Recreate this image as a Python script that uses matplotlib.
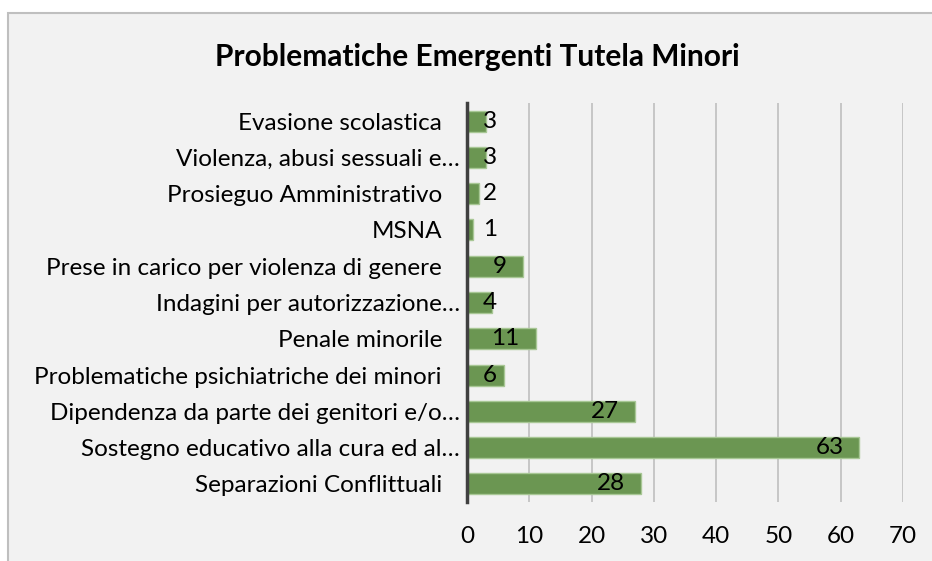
import matplotlib.pyplot as plt
import matplotlib.patches as mpatches
import matplotlib.transforms as mtransforms

plt.rcParams["font.family"] = ["Lato", "DejaVu Sans"]

categories = [
    "Evasione scolastica",
    "Violenza, abusi sessuali e…",
    "Prosieguo Amministrativo",
    "MSNA",
    "Prese in carico per violenza di genere",
    "Indagini per autorizzazione…",
    "Penale minorile",
    "Problematiche psichiatriche dei minori",
    "Dipendenza da parte dei genitori e/o…",
    "Sostegno educativo alla cura ed al…",
    "Separazioni Conflittuali",
]
values = [3, 3, 2, 1, 9, 4, 11, 6, 27, 63, 28]
xticks = [0, 10, 20, 30, 40, 50, 60, 70]

W, H = 932, 561
fig = plt.figure(figsize=(W / 100, H / 100), dpi=100, facecolor="white")

# chart area background with border (top/left visible)
bg = mpatches.Rectangle((7.5 / W, -0.01), 1.02, 1 - 12.5 / H + 0.01,
                        transform=fig.transFigure, facecolor="#F2F2F2",
                        edgecolor="#BFBFBF", linewidth=1.5, zorder=-5)
fig.patches.append(bg)

ax = fig.add_axes([467 / W, 1 - 502 / H, (903 - 467) / W, (502 - 103) / H])
ax.set_facecolor("none")
ax.set_zorder(2)

ypos = list(range(len(categories)))
ax.barh(ypos, values, height=0.58, color="#6B9652", edgecolor="#A8C795",
        linewidth=1, zorder=3)

ax.set_xlim(0, 70)
ax.set_ylim(len(categories) - 0.5, -0.5)
ax.set_xticks(xticks)
ax.set_yticks(ypos)
ax.set_yticklabels(categories)
ax.tick_params(axis="both", length=0, labelsize=17.5, colors="black")
ax.tick_params(axis="y", pad=18)
ax.tick_params(axis="x", pad=17)

ax.grid(axis="x", color="#BFBFBF", linewidth=1.2, zorder=1)
for side in ["top", "right", "bottom"]:
    ax.spines[side].set_visible(False)
ax.spines["left"].set_color("#404040")
ax.spines["left"].set_linewidth(2.5)
ax.spines["left"].set_zorder(4)

# data labels: inside end, pushed right when the bar is too short
labels = []
for y, v in zip(ypos, values):
    t = ax.annotate(str(v), xy=(v, y), xytext=(-16, 0), textcoords="offset pixels",
                    ha="right", va="center", fontsize=17.5, zorder=5)
    labels.append(t)

fig.canvas.draw()
x0 = ax.transData.transform((0, 0))[0]
renderer = fig.canvas.get_renderer()
for t, y in zip(labels, ypos):
    bb = t.get_window_extent(renderer)
    if bb.x0 < x0 + 16:
        t.xy = (0, y)
        t.set_position((16, 0))
        t.set_ha("left")

# truncated labels let the ellipsis run past the usual right edge
shift = mtransforms.ScaledTranslation(18 / 100, 0, fig.dpi_scale_trans)
for lab in ax.get_yticklabels():
    if lab.get_text().endswith("…"):
        lab.set_transform(lab.get_transform() + shift)

fig.text(477 / W, 1 - 57 / H, "Problematiche Emergenti Tutela Minori",
         ha="center", va="center", fontsize=21.5, fontweight="bold", zorder=3)

fig.savefig("out.png", dpi=100, facecolor="white")
